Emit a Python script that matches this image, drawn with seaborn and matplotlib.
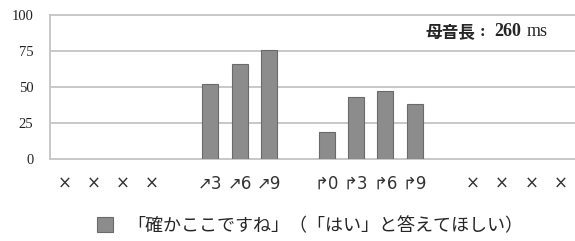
import matplotlib
matplotlib.use("Agg")
import matplotlib.pyplot as plt
import numpy as np
import pandas as pd
import seaborn as sns

# 18 slots on the x axis; empty strings are gaps, "×" means no stimulus
tick_labels = ["×", "×", "×", "×", "",
               "↗3", "↗6", "↗9", "",
               "↱0", "↱3", "↱6", "↱9", "",
               "×", "×", "×", "×"]
pct_yes = [np.nan, np.nan, np.nan, np.nan, np.nan,
           52, 66, 76, np.nan,
           19, 43, 47, 38, np.nan,
           np.nan, np.nan, np.nan, np.nan]
y_ticks = [0, 25, 50, 75, 100]
legend_label = "「確かここですね」（「はい」と答えてほしい）"
note_label = "母音長"
note_value = "260"
note_unit = "ms"

BAR = "#8c8c8c"
EDGE = "#6a6a6a"
GRID = "#c4c4c4"
CJK = ["Noto Sans CJK JP", "DejaVu Sans"]
SERIF = ["Liberation Serif", "DejaVu Serif"]

sns.set_theme(style="white")
plt.rcParams["font.family"] = ["DejaVu Sans", "Noto Sans CJK JP"]

df = pd.DataFrame({"slot": range(len(tick_labels)), "pct": pct_yes})

fig = plt.figure(figsize=(5.75, 2.41), dpi=100)
ax = fig.add_axes([50 / 575, 82 / 241, 525 / 575, 144 / 241])

sns.barplot(data=df, x="slot", y="pct", color=BAR, saturation=1,
            width=0.55, edgecolor=EDGE, linewidth=0.8, ax=ax, zorder=3)

ax.set_xlim(-0.5, len(tick_labels) - 0.5)
ax.set_ylim(0, 100)
ax.set_yticks(y_ticks)
ax.set_yticklabels([str(v) for v in y_ticks], fontfamily=SERIF, fontsize=10.5)
ax.set_xticks(range(len(tick_labels)))
ax.set_xticklabels(tick_labels, fontsize=12, color="#333333")
ax.tick_params(axis="x", length=0, pad=11.5)
ax.tick_params(axis="y", length=0, pad=12, colors="#222222")
ax.set_xlabel("")
ax.set_ylabel("")

for v in y_ticks[1:-1]:
    ax.axhline(v, color=GRID, lw=1.3, zorder=1)
for side in ["left", "bottom", "top"]:
    ax.spines[side].set_color(GRID)
    ax.spines[side].set_linewidth(1.3)
ax.spines["right"].set_visible(False)

# note in the top right corner
t1 = fig.text(426 / 575, 1 - 32 / 241, note_label, fontfamily=CJK,
              fontweight="bold", fontsize=12, va="center", ha="left")
t2 = ax.annotate(":", xy=(1, 0.5), xycoords=t1, xytext=(4, 0),
                 textcoords="offset pixels", va="center", ha="left",
                 fontfamily=SERIF, fontweight="bold", fontsize=12.5,
                 annotation_clip=False)
t3 = ax.annotate(note_value, xy=(1, 0.5), xycoords=t2, xytext=(9, 0),
                 textcoords="offset pixels", va="center", ha="left",
                 fontfamily=SERIF, fontweight="bold", fontsize=13,
                 annotation_clip=False)
ax.annotate(note_unit, xy=(1, 0.5), xycoords=t3, xytext=(5, 0),
            textcoords="offset pixels", va="center", ha="left",
            fontfamily=SERIF, fontsize=13, annotation_clip=False)

fig.legend(handles=[ax.containers[0]], labels=[legend_label],
           loc="center", bbox_to_anchor=(310 / 575, 1 - 226 / 241),
           frameon=False, handlelength=0.9, handleheight=0.9,
           handletextpad=0.75, prop={"family": CJK, "size": 13})

fig.savefig("out.png", dpi=100)
